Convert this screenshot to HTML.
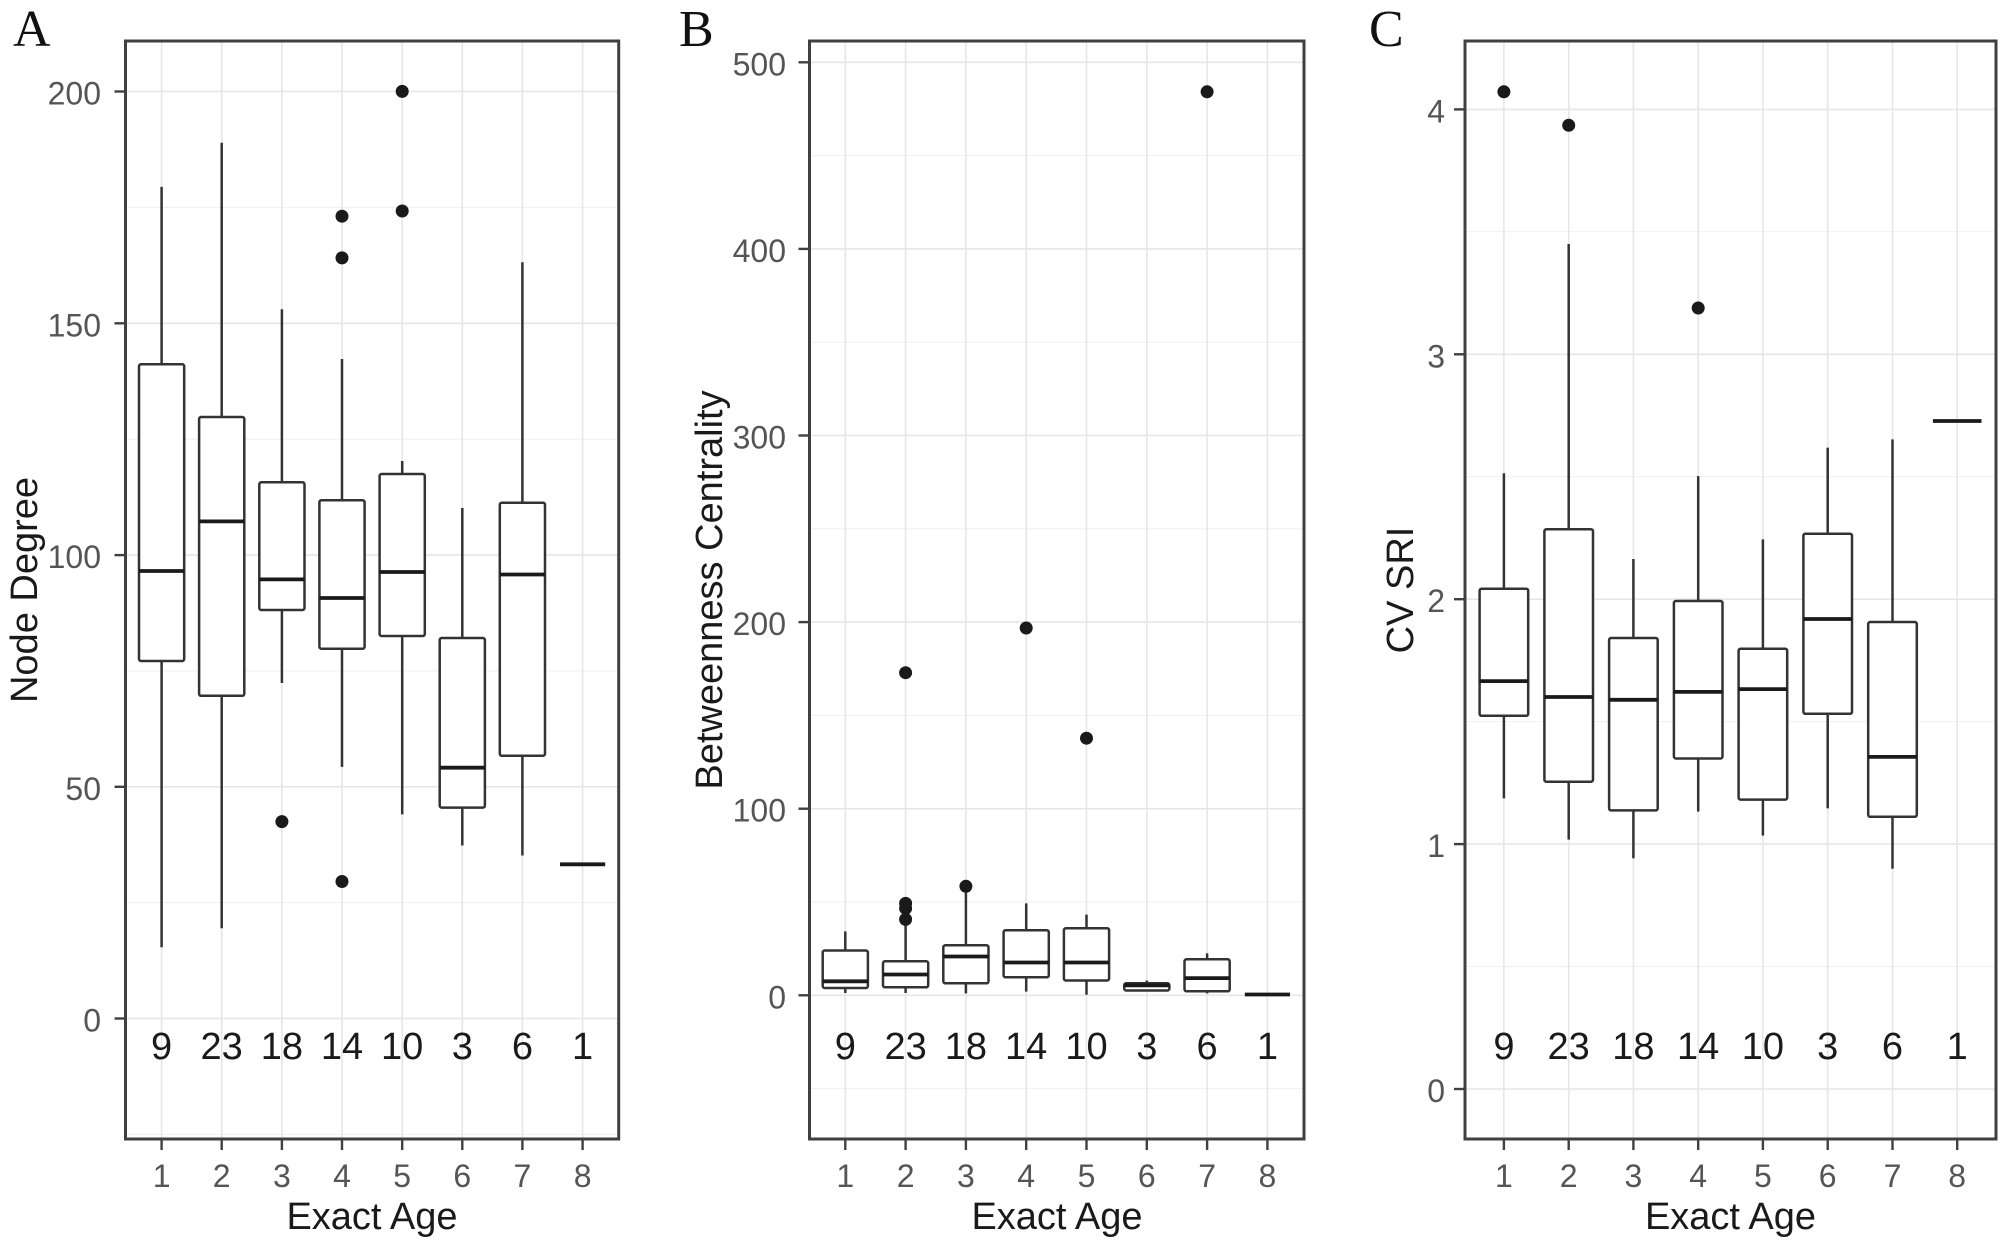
<!DOCTYPE html>
<html><head><meta charset="utf-8"><style>
html,body{margin:0;padding:0;background:#fff;}
svg{display:block;}
text{font-family:"Liberation Sans",Arial,sans-serif;}
.ser{font-family:"Liberation Serif","Times New Roman",serif;font-size:52px;fill:#111;}
.gmaj{stroke:#e6e6e6;stroke-width:1.6;}
.gmin{stroke:#efefef;stroke-width:1;}
.brd{fill:none;stroke:#404040;stroke-width:3;}
.tk{stroke:#404040;stroke-width:2.4;}
.yl{font-size:32px;fill:#555;text-anchor:end;}
.xl{font-size:32px;fill:#555;text-anchor:middle;}
.ttl{font-size:38px;fill:#1a1a1a;text-anchor:middle;}
.cnt{font-size:38px;fill:#1a1a1a;text-anchor:middle;}
.bx{fill:#fff;stroke:#333;stroke-width:2.5;}
.wk{stroke:#333;stroke-width:2.5;}
.md{stroke:#1a1a1a;stroke-width:3.8;}
.pt{fill:#1a1a1a;}
</style></head><body>
<svg width="2004" height="1246" viewBox="0 0 2004 1246" xmlns="http://www.w3.org/2000/svg">
<rect width="2004" height="1246" fill="#fff"/>

<!-- ================= PANEL A ================= -->
<text class="ser" x="13" y="46">A</text>
<g>
<g class="gmin">
<line x1="125.5" x2="618.7" y1="1134.4" y2="1134.4"/>
<line x1="125.5" x2="618.7" y1="902.6" y2="902.6"/>
<line x1="125.5" x2="618.7" y1="670.9" y2="670.9"/>
<line x1="125.5" x2="618.7" y1="439.2" y2="439.2"/>
<line x1="125.5" x2="618.7" y1="207.4" y2="207.4"/>
</g>
<g class="gmaj">
<line x1="125.5" x2="618.7" y1="1018.5" y2="1018.5"/>
<line x1="125.5" x2="618.7" y1="786.8" y2="786.8"/>
<line x1="125.5" x2="618.7" y1="555.1" y2="555.1"/>
<line x1="125.5" x2="618.7" y1="323.3" y2="323.3"/>
<line x1="125.5" x2="618.7" y1="91.5" y2="91.5"/>
<line x1="161.6" x2="161.6" y1="41" y2="1139"/>
<line x1="221.7" x2="221.7" y1="41" y2="1139"/>
<line x1="281.9" x2="281.9" y1="41" y2="1139"/>
<line x1="342.0" x2="342.0" y1="41" y2="1139"/>
<line x1="402.2" x2="402.2" y1="41" y2="1139"/>
<line x1="462.3" x2="462.3" y1="41" y2="1139"/>
<line x1="522.4" x2="522.4" y1="41" y2="1139"/>
<line x1="582.6" x2="582.6" y1="41" y2="1139"/>
</g>
<g>
<line class="wk" x1="161.6" x2="161.6" y1="186.9" y2="364.3"/><line class="wk" x1="161.6" x2="161.6" y1="661" y2="947.3"/>
<rect class="bx" x="139" y="364.3" width="45.2" height="296.7" rx="2"/><line class="md" x1="139" x2="184.2" y1="571" y2="571"/>

<line class="wk" x1="221.7" x2="221.7" y1="142.8" y2="417"/><line class="wk" x1="221.7" x2="221.7" y1="695.8" y2="928.2"/>
<rect class="bx" x="199.1" y="417" width="45.2" height="278.8" rx="2"/><line class="md" x1="199.1" x2="244.3" y1="521.4" y2="521.4"/>

<line class="wk" x1="281.9" x2="281.9" y1="309.3" y2="482.3"/><line class="wk" x1="281.9" x2="281.9" y1="610" y2="683"/>
<rect class="bx" x="259.3" y="482.3" width="45.2" height="127.7" rx="2"/><line class="md" x1="259.3" x2="304.5" y1="579.4" y2="579.4"/>
<circle class="pt" cx="281.9" cy="821.6" r="6.5"/>

<line class="wk" x1="342" x2="342" y1="359" y2="500.2"/><line class="wk" x1="342" x2="342" y1="648.7" y2="766.9"/>
<rect class="bx" x="319.4" y="500.2" width="45.2" height="148.5" rx="2"/><line class="md" x1="319.4" x2="364.6" y1="598" y2="598"/>
<circle class="pt" cx="342" cy="216.2" r="6.5"/><circle class="pt" cx="342" cy="257.9" r="6.5"/><circle class="pt" cx="342" cy="881.5" r="6.5"/>

<line class="wk" x1="402.2" x2="402.2" y1="461" y2="474"/><line class="wk" x1="402.2" x2="402.2" y1="636" y2="814.4"/>
<rect class="bx" x="379.6" y="474" width="45.2" height="162" rx="2"/><line class="md" x1="379.6" x2="424.8" y1="572" y2="572"/>
<circle class="pt" cx="402.2" cy="91.4" r="6.5"/><circle class="pt" cx="402.2" cy="211" r="6.5"/>

<line class="wk" x1="462.3" x2="462.3" y1="508" y2="638"/><line class="wk" x1="462.3" x2="462.3" y1="807.6" y2="845.5"/>
<rect class="bx" x="439.7" y="638" width="45.2" height="169.6" rx="2"/><line class="md" x1="439.7" x2="484.9" y1="767.7" y2="767.7"/>

<line class="wk" x1="522.4" x2="522.4" y1="262.3" y2="502.7"/><line class="wk" x1="522.4" x2="522.4" y1="755.7" y2="855.5"/>
<rect class="bx" x="499.8" y="502.7" width="45.2" height="253" rx="2"/><line class="md" x1="499.8" x2="545" y1="574.5" y2="574.5"/>

<line class="md" x1="560" x2="605.2" y1="864.3" y2="864.3"/>
</g>
<text class="cnt" x="161.6" y="1059">9</text>
<text class="cnt" x="221.7" y="1059">23</text>
<text class="cnt" x="281.9" y="1059">18</text>
<text class="cnt" x="342.0" y="1059">14</text>
<text class="cnt" x="402.2" y="1059">10</text>
<text class="cnt" x="462.3" y="1059">3</text>
<text class="cnt" x="522.4" y="1059">6</text>
<text class="cnt" x="582.6" y="1059">1</text>
<rect class="brd" x="125.5" y="41" width="493.2" height="1098"/>
<g class="tk">
<line x1="114.5" x2="125.5" y1="1018.5" y2="1018.5"/>
<line x1="114.5" x2="125.5" y1="786.8" y2="786.8"/>
<line x1="114.5" x2="125.5" y1="555.1" y2="555.1"/>
<line x1="114.5" x2="125.5" y1="323.3" y2="323.3"/>
<line x1="114.5" x2="125.5" y1="91.5" y2="91.5"/>
</g>
<text class="yl" x="101" y="1031.5">0</text>
<text class="yl" x="101" y="799.8">50</text>
<text class="yl" x="101" y="568.1">100</text>
<text class="yl" x="101" y="336.3">150</text>
<text class="yl" x="101" y="104.5">200</text>
<g class="tk">
<line x1="161.6" x2="161.6" y1="1139" y2="1150"/>
<line x1="221.7" x2="221.7" y1="1139" y2="1150"/>
<line x1="281.9" x2="281.9" y1="1139" y2="1150"/>
<line x1="342.0" x2="342.0" y1="1139" y2="1150"/>
<line x1="402.2" x2="402.2" y1="1139" y2="1150"/>
<line x1="462.3" x2="462.3" y1="1139" y2="1150"/>
<line x1="522.4" x2="522.4" y1="1139" y2="1150"/>
<line x1="582.6" x2="582.6" y1="1139" y2="1150"/>
</g>
<text class="xl" x="161.6" y="1187">1</text>
<text class="xl" x="221.7" y="1187">2</text>
<text class="xl" x="281.9" y="1187">3</text>
<text class="xl" x="342.0" y="1187">4</text>
<text class="xl" x="402.2" y="1187">5</text>
<text class="xl" x="462.3" y="1187">6</text>
<text class="xl" x="522.4" y="1187">7</text>
<text class="xl" x="582.6" y="1187">8</text>
<text class="ttl" x="372" y="1229">Exact Age</text>
<text class="ttl" transform="translate(37,590) rotate(-90)">Node Degree</text>
</g>

<!-- ================= PANEL B ================= -->
<text class="ser" x="679" y="46">B</text>
<g>
<g class="gmin">
<line x1="809.5" x2="1304" y1="1088.6" y2="1088.6"/>
<line x1="809.5" x2="1304" y1="902" y2="902"/>
<line x1="809.5" x2="1304" y1="715.4" y2="715.4"/>
<line x1="809.5" x2="1304" y1="528.8" y2="528.8"/>
<line x1="809.5" x2="1304" y1="342.2" y2="342.2"/>
<line x1="809.5" x2="1304" y1="155.6" y2="155.6"/>
</g>
<g class="gmaj">
<line x1="809.5" x2="1304" y1="995.3" y2="995.3"/>
<line x1="809.5" x2="1304" y1="808.7" y2="808.7"/>
<line x1="809.5" x2="1304" y1="622.1" y2="622.1"/>
<line x1="809.5" x2="1304" y1="435.5" y2="435.5"/>
<line x1="809.5" x2="1304" y1="248.9" y2="248.9"/>
<line x1="809.5" x2="1304" y1="62.3" y2="62.3"/>
<line x1="845.3" x2="845.3" y1="41" y2="1139"/>
<line x1="905.6" x2="905.6" y1="41" y2="1139"/>
<line x1="965.9" x2="965.9" y1="41" y2="1139"/>
<line x1="1026.2" x2="1026.2" y1="41" y2="1139"/>
<line x1="1086.5" x2="1086.5" y1="41" y2="1139"/>
<line x1="1146.8" x2="1146.8" y1="41" y2="1139"/>
<line x1="1207.1" x2="1207.1" y1="41" y2="1139"/>
<line x1="1267.4" x2="1267.4" y1="41" y2="1139"/>
</g>
<g>
<line class="wk" x1="845.3" x2="845.3" y1="931.4" y2="950.5"/><line class="wk" x1="845.3" x2="845.3" y1="988" y2="993"/>
<rect class="bx" x="822.7" y="950.5" width="45.2" height="37.5" rx="2"/><line class="md" x1="822.7" x2="867.9" y1="981.3" y2="981.3"/>

<line class="wk" x1="905.6" x2="905.6" y1="923.4" y2="961.3"/><line class="wk" x1="905.6" x2="905.6" y1="987.3" y2="993"/>
<rect class="bx" x="883" y="961.3" width="45.2" height="26" rx="2"/><line class="md" x1="883" x2="928.2" y1="974.5" y2="974.5"/>
<circle class="pt" cx="905.6" cy="672.7" r="6.5"/><circle class="pt" cx="905.6" cy="903.4" r="6.5"/><circle class="pt" cx="905.6" cy="908.4" r="6.5"/><circle class="pt" cx="905.6" cy="919.4" r="6.5"/>

<line class="wk" x1="965.9" x2="965.9" y1="889" y2="945.3"/><line class="wk" x1="965.9" x2="965.9" y1="983.3" y2="993.4"/>
<rect class="bx" x="943.3" y="945.3" width="45.2" height="38" rx="2"/><line class="md" x1="943.3" x2="988.5" y1="956.5" y2="956.5"/>
<circle class="pt" cx="965.9" cy="886.3" r="6.5"/>

<line class="wk" x1="1026.2" x2="1026.2" y1="903.4" y2="930.2"/><line class="wk" x1="1026.2" x2="1026.2" y1="977.3" y2="991.6"/>
<rect class="bx" x="1003.6" y="930.2" width="45.2" height="47.1" rx="2"/><line class="md" x1="1003.6" x2="1048.8" y1="962.5" y2="962.5"/>
<circle class="pt" cx="1026.2" cy="628" r="6.5"/>

<line class="wk" x1="1086.5" x2="1086.5" y1="914.6" y2="928.2"/><line class="wk" x1="1086.5" x2="1086.5" y1="980.5" y2="994.7"/>
<rect class="bx" x="1063.9" y="928.2" width="45.2" height="52.3" rx="2"/><line class="md" x1="1063.9" x2="1109.1" y1="962.5" y2="962.5"/>
<circle class="pt" cx="1086.5" cy="738.2" r="6.5"/>

<line class="wk" x1="1146.8" x2="1146.8" y1="980.5" y2="983.3"/>
<rect class="bx" x="1124.2" y="983.3" width="45.2" height="7.2" rx="2"/><line class="md" x1="1124.2" x2="1169.4" y1="985.3" y2="985.3"/>

<line class="wk" x1="1207.1" x2="1207.1" y1="953.3" y2="959.3"/><line class="wk" x1="1207.1" x2="1207.1" y1="991.3" y2="993.4"/>
<rect class="bx" x="1184.5" y="959.3" width="45.2" height="32" rx="2"/><line class="md" x1="1184.5" x2="1229.7" y1="978.1" y2="978.1"/>
<circle class="pt" cx="1207.1" cy="91.8" r="6.5"/>

<line class="md" x1="1244.8" x2="1290" y1="994.5" y2="994.5"/>
</g>
<text class="cnt" x="845.3" y="1059">9</text>
<text class="cnt" x="905.6" y="1059">23</text>
<text class="cnt" x="965.9" y="1059">18</text>
<text class="cnt" x="1026.2" y="1059">14</text>
<text class="cnt" x="1086.5" y="1059">10</text>
<text class="cnt" x="1146.8" y="1059">3</text>
<text class="cnt" x="1207.1" y="1059">6</text>
<text class="cnt" x="1267.4" y="1059">1</text>
<rect class="brd" x="809.5" y="41" width="494.5" height="1098"/>
<g class="tk">
<line x1="798.5" x2="809.5" y1="995.3" y2="995.3"/>
<line x1="798.5" x2="809.5" y1="808.7" y2="808.7"/>
<line x1="798.5" x2="809.5" y1="622.1" y2="622.1"/>
<line x1="798.5" x2="809.5" y1="435.5" y2="435.5"/>
<line x1="798.5" x2="809.5" y1="248.9" y2="248.9"/>
<line x1="798.5" x2="809.5" y1="62.3" y2="62.3"/>
</g>
<text class="yl" x="786" y="1008.3">0</text>
<text class="yl" x="786" y="821.7">100</text>
<text class="yl" x="786" y="635.1">200</text>
<text class="yl" x="786" y="448.5">300</text>
<text class="yl" x="786" y="261.9">400</text>
<text class="yl" x="786" y="75.3">500</text>
<g class="tk">
<line x1="845.3" x2="845.3" y1="1139" y2="1150"/>
<line x1="905.6" x2="905.6" y1="1139" y2="1150"/>
<line x1="965.9" x2="965.9" y1="1139" y2="1150"/>
<line x1="1026.2" x2="1026.2" y1="1139" y2="1150"/>
<line x1="1086.5" x2="1086.5" y1="1139" y2="1150"/>
<line x1="1146.8" x2="1146.8" y1="1139" y2="1150"/>
<line x1="1207.1" x2="1207.1" y1="1139" y2="1150"/>
<line x1="1267.4" x2="1267.4" y1="1139" y2="1150"/>
</g>
<text class="xl" x="845.3" y="1187">1</text>
<text class="xl" x="905.6" y="1187">2</text>
<text class="xl" x="965.9" y="1187">3</text>
<text class="xl" x="1026.2" y="1187">4</text>
<text class="xl" x="1086.5" y="1187">5</text>
<text class="xl" x="1146.8" y="1187">6</text>
<text class="xl" x="1207.1" y="1187">7</text>
<text class="xl" x="1267.4" y="1187">8</text>
<text class="ttl" x="1057" y="1229">Exact Age</text>
<text class="ttl" transform="translate(722,590) rotate(-90)">Betweenness Centrality</text>
</g>

<!-- ================= PANEL C ================= -->
<text class="ser" x="1369" y="46">C</text>
<g>
<g class="gmin">
<line x1="1465" x2="1996" y1="966.5" y2="966.5"/>
<line x1="1465" x2="1996" y1="721.6" y2="721.6"/>
<line x1="1465" x2="1996" y1="476.7" y2="476.7"/>
<line x1="1465" x2="1996" y1="231.8" y2="231.8"/>
</g>
<g class="gmaj">
<line x1="1465" x2="1996" y1="1089" y2="1089"/>
<line x1="1465" x2="1996" y1="844.1" y2="844.1"/>
<line x1="1465" x2="1996" y1="599.2" y2="599.2"/>
<line x1="1465" x2="1996" y1="354.3" y2="354.3"/>
<line x1="1465" x2="1996" y1="109.4" y2="109.4"/>
<line x1="1503.9" x2="1503.9" y1="41" y2="1139"/>
<line x1="1568.7" x2="1568.7" y1="41" y2="1139"/>
<line x1="1633.4" x2="1633.4" y1="41" y2="1139"/>
<line x1="1698.2" x2="1698.2" y1="41" y2="1139"/>
<line x1="1762.9" x2="1762.9" y1="41" y2="1139"/>
<line x1="1827.7" x2="1827.7" y1="41" y2="1139"/>
<line x1="1892.5" x2="1892.5" y1="41" y2="1139"/>
<line x1="1957.2" x2="1957.2" y1="41" y2="1139"/>
</g>
<g>
<line class="wk" x1="1503.9" x2="1503.9" y1="473.3" y2="588.7"/><line class="wk" x1="1503.9" x2="1503.9" y1="715.8" y2="798.4"/>
<rect class="bx" x="1479.6" y="588.7" width="48.6" height="127.1" rx="2"/><line class="md" x1="1479.6" x2="1528.2" y1="681.1" y2="681.1"/>
<circle class="pt" cx="1503.9" cy="91.8" r="6.5"/>

<line class="wk" x1="1568.7" x2="1568.7" y1="244" y2="529.2"/><line class="wk" x1="1568.7" x2="1568.7" y1="781.7" y2="839.6"/>
<rect class="bx" x="1544.4" y="529.2" width="48.6" height="252.5" rx="2"/><line class="md" x1="1544.4" x2="1593" y1="697" y2="697"/>
<circle class="pt" cx="1568.7" cy="125.3" r="6.5"/>

<line class="wk" x1="1633.4" x2="1633.4" y1="559" y2="638"/><line class="wk" x1="1633.4" x2="1633.4" y1="810.4" y2="858.3"/>
<rect class="bx" x="1609.1" y="638" width="48.6" height="172.4" rx="2"/><line class="md" x1="1609.1" x2="1657.7" y1="699.8" y2="699.8"/>

<line class="wk" x1="1698.2" x2="1698.2" y1="476.1" y2="601"/><line class="wk" x1="1698.2" x2="1698.2" y1="758.5" y2="811.6"/>
<rect class="bx" x="1673.9" y="601" width="48.6" height="157.5" rx="2"/><line class="md" x1="1673.9" x2="1722.5" y1="691.9" y2="691.9"/>
<circle class="pt" cx="1698.2" cy="308" r="6.5"/>

<line class="wk" x1="1762.9" x2="1762.9" y1="539.4" y2="648.7"/><line class="wk" x1="1762.9" x2="1762.9" y1="799.6" y2="835.6"/>
<rect class="bx" x="1738.6" y="648.7" width="48.6" height="150.9" rx="2"/><line class="md" x1="1738.6" x2="1787.2" y1="689.1" y2="689.1"/>

<line class="wk" x1="1827.7" x2="1827.7" y1="447.6" y2="533.7"/><line class="wk" x1="1827.7" x2="1827.7" y1="713.8" y2="808.4"/>
<rect class="bx" x="1803.4" y="533.7" width="48.6" height="180.1" rx="2"/><line class="md" x1="1803.4" x2="1852" y1="619" y2="619"/>

<line class="wk" x1="1892.5" x2="1892.5" y1="439.4" y2="622"/><line class="wk" x1="1892.5" x2="1892.5" y1="816.8" y2="868.7"/>
<rect class="bx" x="1868.2" y="622" width="48.6" height="194.8" rx="2"/><line class="md" x1="1868.2" x2="1916.8" y1="756.9" y2="756.9"/>

<line class="md" x1="1932.9" x2="1981.5" y1="421" y2="421"/>
</g>
<text class="cnt" x="1503.9" y="1059">9</text>
<text class="cnt" x="1568.7" y="1059">23</text>
<text class="cnt" x="1633.4" y="1059">18</text>
<text class="cnt" x="1698.2" y="1059">14</text>
<text class="cnt" x="1762.9" y="1059">10</text>
<text class="cnt" x="1827.7" y="1059">3</text>
<text class="cnt" x="1892.5" y="1059">6</text>
<text class="cnt" x="1957.2" y="1059">1</text>
<rect class="brd" x="1465" y="41" width="531" height="1098"/>
<g class="tk">
<line x1="1454" x2="1465" y1="1089" y2="1089"/>
<line x1="1454" x2="1465" y1="844.1" y2="844.1"/>
<line x1="1454" x2="1465" y1="599.2" y2="599.2"/>
<line x1="1454" x2="1465" y1="354.3" y2="354.3"/>
<line x1="1454" x2="1465" y1="109.4" y2="109.4"/>
</g>
<text class="yl" x="1445" y="1102">0</text>
<text class="yl" x="1445" y="857.1">1</text>
<text class="yl" x="1445" y="612.2">2</text>
<text class="yl" x="1445" y="367.3">3</text>
<text class="yl" x="1445" y="122.4">4</text>
<g class="tk">
<line x1="1503.9" x2="1503.9" y1="1139" y2="1150"/>
<line x1="1568.7" x2="1568.7" y1="1139" y2="1150"/>
<line x1="1633.4" x2="1633.4" y1="1139" y2="1150"/>
<line x1="1698.2" x2="1698.2" y1="1139" y2="1150"/>
<line x1="1762.9" x2="1762.9" y1="1139" y2="1150"/>
<line x1="1827.7" x2="1827.7" y1="1139" y2="1150"/>
<line x1="1892.5" x2="1892.5" y1="1139" y2="1150"/>
<line x1="1957.2" x2="1957.2" y1="1139" y2="1150"/>
</g>
<text class="xl" x="1503.9" y="1187">1</text>
<text class="xl" x="1568.7" y="1187">2</text>
<text class="xl" x="1633.4" y="1187">3</text>
<text class="xl" x="1698.2" y="1187">4</text>
<text class="xl" x="1762.9" y="1187">5</text>
<text class="xl" x="1827.7" y="1187">6</text>
<text class="xl" x="1892.5" y="1187">7</text>
<text class="xl" x="1957.2" y="1187">8</text>
<text class="ttl" x="1730.5" y="1229">Exact Age</text>
<text class="ttl" transform="translate(1413,590) rotate(-90)">CV SRI</text>
</g>
</svg>
</body></html>
